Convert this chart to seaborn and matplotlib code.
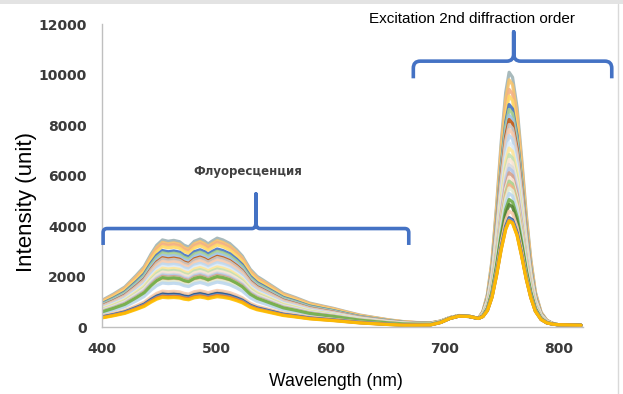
import matplotlib
matplotlib.use("Agg")
import matplotlib.pyplot as plt
import seaborn as sns
import pandas as pd
from matplotlib.path import Path
from matplotlib.patches import PathPatch, Rectangle
from matplotlib.lines import Line2D

# ---- data ----
wavelength = [400, 410, 420, 430, 437, 443, 448, 453, 458, 463, 468, 472, 476,
              481, 486, 490, 493, 497, 501, 506, 512, 518, 523, 530, 536, 541,
              550, 559, 570, 582, 594, 603, 615, 626, 640, 652, 665, 676, 688,
              697, 705, 713, 722, 730, 734, 738, 742, 746, 750, 754, 757, 760,
              764, 768, 772, 776, 780, 785, 790, 795, 800, 810, 820]

# fluorescence profile (relative to each spectrum's fluorescence maximum)
fluor_shape = [0.30, 0.37, 0.45, 0.58, 0.68, 0.82, 0.92, 0.98, 0.965, 0.975, 0.96, 0.92, 0.90,
               0.965, 0.99, 0.965, 0.935, 0.97, 1.0, 0.98, 0.94, 0.87, 0.80, 0.65, 0.57, 0.53,
               0.455, 0.38, 0.33, 0.27, 0.235, 0.21, 0.17, 0.135, 0.105, 0.08, 0.06, 0.045, 0.035,
               0.025, 0.015, 0.01, 0.005, 0, 0, 0, 0, 0, 0, 0, 0, 0,
               0, 0, 0, 0, 0, 0, 0, 0, 0, 0, 0]

# small common band between fluorescence and excitation peak (absolute intensity)
bump_profile = [0, 0, 0, 0, 0, 0, 0, 0, 0, 0, 0, 0, 0,
                0, 0, 0, 0, 0, 0, 0, 0, 0, 0, 0, 0, 0,
                0, 0, 0, 0, 0, 0, 0, 0, 0, 0, 0, 20, 40,
                150, 320, 420, 410, 340, 270, 200, 150, 120, 100, 90, 90, 90,
                90, 90, 90, 90, 90, 90, 90, 90, 90, 80, 70]

# excitation 2nd order peak profile (relative to each spectrum's peak maximum)
peak_shape = [0, 0, 0, 0, 0, 0, 0, 0, 0, 0, 0, 0, 0,
              0, 0, 0, 0, 0, 0, 0, 0, 0, 0, 0, 0, 0,
              0, 0, 0, 0, 0, 0, 0, 0, 0, 0, 0, 0, 0,
              0, 0, 0, 0, 0, 0.035, 0.11, 0.25, 0.47, 0.72, 0.92, 1.0, 0.98,
              0.86, 0.66, 0.44, 0.26, 0.13, 0.05, 0.018, 0.006, 0, 0, 0]

spectra = ["S%02d" % i for i in range(1, 31)]
fluor_max = [3520, 3420, 3350, 3250, 3090, 3000, 2900, 2800, 2750, 2650,
             2550, 2450, 2380, 2300, 2220, 2150, 2100, 2050, 2000, 1950,
             1900, 1850, 1780, 2000, 1380, 1450, 1330, 1280, 1250, 1200]
peak_max = [10000, 9700, 9320, 9060, 8720, 8530, 8300, 8130, 7930, 7730,
            7500, 7210, 7000, 6740, 6550, 6350, 6200, 6020, 5850, 5690,
            5550, 5420, 5200, 4960, 4760, 4500, 4240, 4180, 4130, 4100]
colors = ["#9fb3b5", "#f7c46c", "#f4b183", "#ffd966", "#4472c4", "#a9d18e",
          "#9dc3e6", "#c55a11", "#c9c9c9", "#f8cbad", "#bdd7ee", "#deebf7",
          "#ffe699", "#c5e0b4", "#fbe5d6", "#dbdbdb", "#b4c7e7", "#d6a18a",
          "#fce4d6", "#a9d18e", "#f4b183", "#e2efda", "#bdd7ee", "#70ad47",
          "#548235", "#f8cbad", "#2f5597", "#5b9bd5", "#ed7d31", "#ffc000"]

rows = []
for sid, fa, pa in zip(spectra, fluor_max, peak_max):
    for w, fs, b, ps in zip(wavelength, fluor_shape, bump_profile, peak_shape):
        rows.append((sid, w, fa * fs + b + pa * ps))
df = pd.DataFrame(rows, columns=["spectrum", "wavelength", "intensity"])

# ---- plot ----
sns.set_style("white")
plt.rcParams["font.family"] = ["DejaVu Sans"]

fig = plt.figure(figsize=(6.23, 3.94), dpi=100)
ax = fig.add_axes([0.1637, 0.170, 0.7725, 0.769])

sns.lineplot(data=df, x="wavelength", y="intensity", hue="spectrum",
             palette=dict(zip(spectra, colors)), estimator=None, sort=False,
             legend=False, lw=2.3, alpha=0.9, ax=ax)

ax.set_xlim(400, 822)
ax.set_ylim(0, 12000)
ax.set_xticks([400, 500, 600, 700, 800])
ax.set_yticks(range(0, 12001, 2000))
for s in ["top", "right"]:
    ax.spines[s].set_visible(False)
for s in ["left", "bottom"]:
    ax.spines[s].set_color("#bfbfbf")
    ax.spines[s].set_linewidth(1.0)
ax.tick_params(axis="both", which="major", direction="out", length=5,
               width=1, color="#bfbfbf", labelsize=10, labelcolor="#3a3a3a", pad=6)
for lab in ax.get_xticklabels() + ax.get_yticklabels():
    lab.set_fontweight("bold")

ax.set_xlabel("")
ax.set_ylabel("")
fig.text(336 / 623, 1 - 381.7 / 394, "Wavelength (nm)", family="Liberation Sans",
         fontsize=12.7, color="black", ha="center", va="center")
fig.text(27 / 623, 1 - 201.5 / 394, "Intensity (unit)", family="Liberation Sans",
         fontsize=16, color="black", ha="center", va="center", rotation=90)


def brace(x0, x1, xm, y_line, y_hook, y_tip, rx, ry, h1):
    verts = [(x0, y_hook), (x0, y_line - ry), (x0, y_line), (x0 + rx, y_line),
             (xm - rx, y_line), (xm, y_line), (xm, y_line + h1), (xm, y_tip),
             (xm, y_line + h1), (xm, y_line), (xm + rx, y_line),
             (x1 - rx, y_line), (x1, y_line), (x1, y_line - ry), (x1, y_hook)]
    codes = [Path.MOVETO, Path.LINETO, Path.CURVE3, Path.CURVE3,
             Path.LINETO, Path.CURVE3, Path.CURVE3, Path.LINETO,
             Path.LINETO, Path.CURVE3, Path.CURVE3,
             Path.LINETO, Path.CURVE3, Path.CURVE3, Path.LINETO]
    p = PathPatch(Path(verts, codes), fill=False, edgecolor="#4472c4", lw=2.6,
                  capstyle="butt", joinstyle="round", clip_on=False, zorder=5)
    ax.add_patch(p)


brace(401, 669, 535, 3900, 3250, 5270, 3.5, 160, 250)
brace(673, 847, 761, 10530, 9850, 11690, 6.0, 280, 300)

ax.text(528, 6140, "Флуоресценция", fontsize=8.5, fontweight="bold", color="#404040",
        ha="center", va="center")
ax.text(724.6, 12200, "Excitation 2nd diffraction order", family="Liberation Sans",
        fontsize=11, color="black", ha="center", va="center", clip_on=False)

# outer chart frame remnants
fig.patches.append(Rectangle((0, 0.99), 1, 0.01, transform=fig.transFigure,
                             facecolor="#e3e3e3", edgecolor="none"))
fig.lines.append(Line2D([0.992, 0.992], [0, 0.99], transform=fig.transFigure,
                        color="#d9d9d9", lw=1))

fig.savefig("out.png", dpi=100)
